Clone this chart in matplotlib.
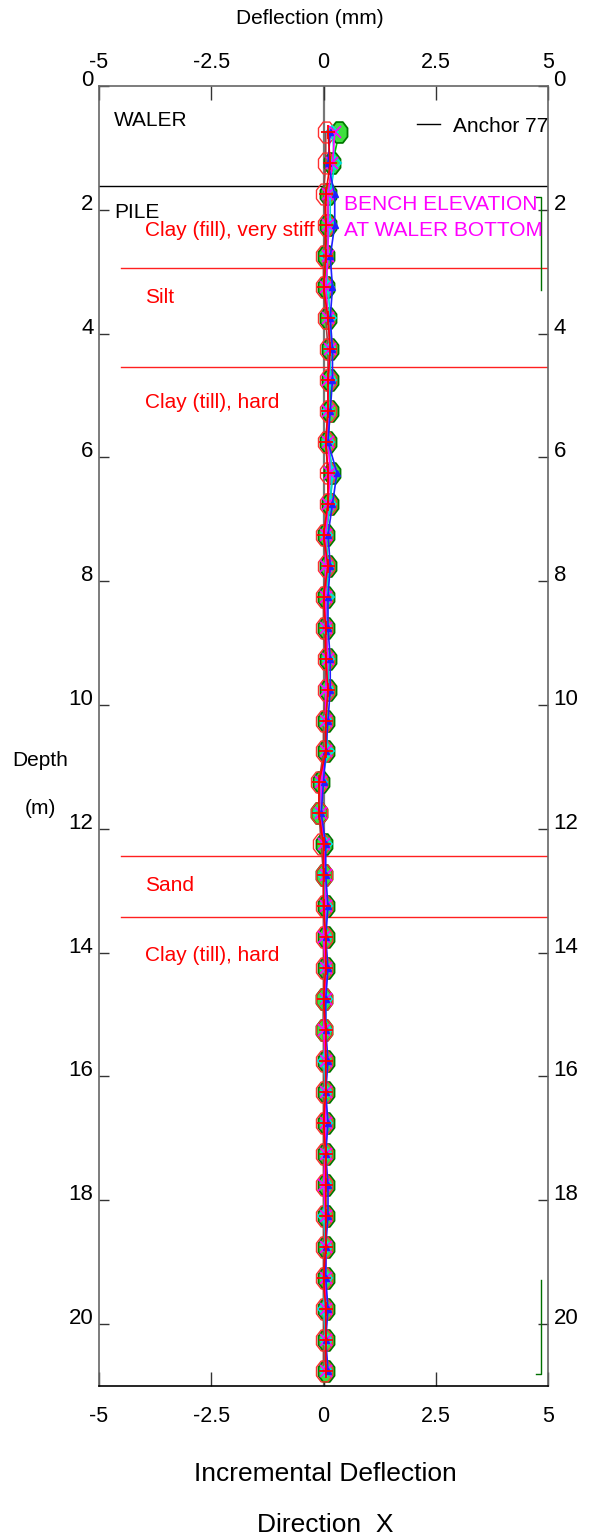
import matplotlib
matplotlib.use("Agg")
import matplotlib.pyplot as plt
from matplotlib.path import Path
from matplotlib.lines import Line2D
from matplotlib.transforms import ScaledTranslation
import numpy as np

plt.rcParams['font.family'] = ['Liberation Sans', 'DejaVu Sans']

# Probe depths (m)
depths = [0.75, 1.25, 1.75, 2.25, 2.75, 3.25, 3.75, 4.25, 4.75, 5.25, 5.75,
          6.25, 6.75, 7.25, 7.75, 8.25, 8.75, 9.25, 9.75, 10.25, 10.75,
          11.25, 11.75, 12.25, 12.75, 13.25, 13.75, 14.25, 14.75, 15.25,
          15.75, 16.25, 16.75, 17.25, 17.75, 18.25, 18.75, 19.25, 19.75,
          20.25, 20.75]

# Incremental deflection readings (mm), one list per survey
reading_a = [0.35, 0.20, 0.10, 0.10, 0.05, 0.05, 0.10, 0.15, 0.15, 0.15, 0.10,
             0.20, 0.15, 0.05, 0.10, 0.05, 0.05, 0.10, 0.10, 0.05, 0.05,
             -0.05, -0.10, 0.00, 0.00, 0.05, 0.05, 0.05, 0.00, 0.00,
             0.05, 0.05, 0.05, 0.05, 0.05, 0.05, 0.05, 0.05, 0.05, 0.05, 0.05]
reading_b = [0.10, 0.15, 0.05, 0.05, 0.05, 0.00, 0.10, 0.15, 0.10, 0.10, 0.05,
             0.10, 0.10, 0.00, 0.10, 0.00, 0.05, 0.05, 0.10, 0.05, 0.05,
             -0.10, -0.10, 0.00, 0.00, 0.00, 0.05, 0.05, 0.00, 0.05,
             0.05, 0.05, 0.00, 0.05, 0.05, 0.05, 0.05, 0.00, 0.05, 0.05, 0.05]
reading_c = [0.15, 0.10, 0.25, 0.25, 0.15, 0.20, 0.15, 0.20, 0.20, 0.15, 0.10,
             0.30, 0.20, 0.10, 0.15, 0.10, 0.10, 0.15, 0.15, 0.10, 0.05,
             0.00, -0.05, 0.05, 0.05, 0.10, 0.05, 0.10, 0.05, 0.05,
             0.10, 0.05, 0.10, 0.05, 0.10, 0.10, 0.05, 0.05, 0.10, 0.05, 0.10]
reading_d = [0.25, 0.20, 0.10, 0.10, 0.10, 0.05, 0.10, 0.15, 0.10, 0.10, 0.10,
             0.15, 0.10, 0.05, 0.05, 0.05, 0.05, 0.10, 0.05, 0.05, 0.05,
             -0.05, -0.05, 0.00, 0.05, 0.05, 0.00, 0.05, 0.05, 0.00,
             0.05, 0.05, 0.05, 0.05, 0.00, 0.05, 0.05, 0.05, 0.05, 0.05, 0.05]
reading_e = [0.20, 0.25, 0.15, 0.15, 0.05, 0.10, 0.15, 0.15, 0.15, 0.10, 0.10,
             0.20, 0.15, 0.05, 0.10, 0.10, 0.05, 0.10, 0.10, 0.05, 0.10,
             -0.05, -0.10, 0.05, 0.00, 0.05, 0.05, 0.05, 0.05, 0.05,
             0.00, 0.05, 0.05, 0.05, 0.05, 0.00, 0.05, 0.05, 0.00, 0.05, 0.05]
reading_f = [0.05, 0.05, 0.00, 0.05, 0.00, 0.00, 0.05, 0.10, 0.10, 0.10, 0.05,
             0.10, 0.10, 0.00, 0.05, 0.00, 0.00, 0.05, 0.05, 0.00, 0.00,
             -0.10, -0.10, -0.05, 0.00, 0.00, 0.00, 0.00, 0.00, 0.00,
             0.00, 0.00, 0.00, 0.00, 0.00, 0.00, 0.00, 0.00, 0.00, 0.00, 0.00]

# Strata boundaries (m) and labels
pile_top = 1.62
layer_bounds = [2.94, 4.54, 12.44, 13.42]
layer_names = ["Clay (fill), very stiff", "Silt", "Clay (till), hard",
               "Sand", "Clay (till), hard"]
layer_label_depths = [2.34, 3.41, 5.12, 12.92, 14.04]

# Bench elevation brackets (x in mm, depth range in m)
bracket_x = 4.85
bracket_tick = 0.12
bracket_ranges = [(1.80, 3.30, 'top'), (19.29, 20.80, 'bottom')]

x_ticks = [-5, -2.5, 0, 2.5, 5]
x_tick_labels = ["-5", "-2.5", "0", "2.5", "5"]
y_ticks = [0, 2, 4, 6, 8, 10, 12, 14, 16, 18, 20]

fig = plt.figure(figsize=(5.95, 15.39), dpi=100)
ax = fig.add_axes([99 / 595, 1 - 1386 / 1539, 449 / 595, 1300 / 1539])
ax.set_xlim(-5, 5)
ax.set_ylim(21, 0)

# Vertically stretched octagon marker
ang = np.deg2rad(22.5 + 45 * np.arange(8))
octo = np.column_stack([np.cos(ang), 1.3 * np.sin(ang)])
octo = np.vstack([octo, octo[:1]])
oct_marker = Path(octo, closed=True)

ax.axvline(0, color='#777777', lw=1.6, zorder=1)

series = [
    (reading_a, '#00c000', dict(marker=oct_marker, ms=15, mfc='#3ee03e', mec='#007a00', mew=1.3)),
    (reading_f, '#a04040', dict(marker=oct_marker, ms=15, mfc='none', mec='#ff3030', mew=1.0)),
    (reading_e, '#00d8d8', dict(marker='D', ms=6, mfc='none', mec='#00e0e0', mew=1.4)),
    (reading_d, '#ff00ff', dict(marker='x', ms=8, mec='#ff00ff', mew=1.3)),
    (reading_c, '#2020ff', dict(marker='^', ms=5, mfc='#2020ff', mec='#2020ff')),
    (reading_b, '#ff0000', dict(marker='+', ms=10, mec='#ff0000', mew=1.3)),
]
for vals, lc, mk in series:
    ax.plot(vals, depths, color=lc, lw=1.2, zorder=3, **mk)

# Waler / pile boundary and strata
ax.axhline(pile_top, color='black', lw=1.0, zorder=2)
for d in layer_bounds:
    ax.plot([-4.5, 5], [d, d], color='#ff2020', lw=1.0, zorder=2)

ax.text(-4.67, 0.55, "WALER", fontsize=15, ha='left', va='center')
ax.text(-4.67, 2.05, "PILE", fontsize=15, ha='left', va='center')
for name, d in zip(layer_names, layer_label_depths):
    ax.text(-3.98, d, name, fontsize=15, color='#ff0000', ha='left', va='center')

ax.text(0.45, 1.92, "BENCH ELEVATION", fontsize=15, color='#ff00ff',
        ha='left', va='center')
ax.text(0.45, 2.33, "AT WALER BOTTOM", fontsize=15, color='#ff00ff',
        ha='left', va='center')

for top, bot, end in bracket_ranges:
    if end == 'top':
        ax.plot([bracket_x - bracket_tick, bracket_x, bracket_x], [top, top, bot],
                color='#007000', lw=1.0, zorder=2)
    else:
        ax.plot([bracket_x, bracket_x, bracket_x - bracket_tick], [top, bot, bot],
                color='#007000', lw=1.0, zorder=2)

ax.legend([Line2D([0], [0], color='black', lw=1.0)], ["Anchor 77"],
          loc='upper right', bbox_to_anchor=(1.0, 0.9765), frameon=False,
          fontsize=15, handlelength=1.1, handletextpad=0.6,
          borderpad=0, borderaxespad=0)

# Axes frame and ticks
for s in ['left', 'right', 'top']:
    ax.spines[s].set_color('#666666')
ax.spines['bottom'].set_color('black')
for s in ax.spines.values():
    s.set_linewidth(1.2)

ax.set_xticks(x_ticks)
ax.set_xticklabels(x_tick_labels)
ax.set_yticks(y_ticks)
ax.tick_params(axis='x', which='both', direction='in', length=10, width=1,
               top=True, labeltop=True, bottom=True, labelbottom=True,
               labelsize=15.5, pad=9, color='#333333')
ax.tick_params(axis='y', which='both', direction='in', length=7, width=1,
               left=True, right=True, labelleft=True, labelright=True,
               labelsize=16, pad=4, color='#333333')
for t in ax.yaxis.get_major_ticks():
    t.label1.set_va('baseline')
    t.label2.set_va('baseline')

# Bottom tick labels sit a little further below the frame
shift = ScaledTranslation(0, -7 / 100, fig.dpi_scale_trans)
for t in ax.xaxis.get_major_ticks():
    t.label1.set_transform(t.label1.get_transform() + shift)

fig.text(310 / 595, 1 - 18 / 1539, "Deflection (mm)", fontsize=15,
         ha='center', va='center')
fig.text(40 / 595, 1 - 760 / 1539, "Depth", fontsize=15, ha='center', va='center')
fig.text(40 / 595, 1 - 808 / 1539, "(m)", fontsize=15, ha='center', va='center')
fig.text(325 / 595, 1 - 1474 / 1539, "Incremental Deflection", fontsize=19,
         ha='center', va='center')
fig.text(325 / 595, 1 - 1525 / 1539, "Direction  X", fontsize=19,
         ha='center', va='center')

fig.savefig("out.png", dpi=100)
